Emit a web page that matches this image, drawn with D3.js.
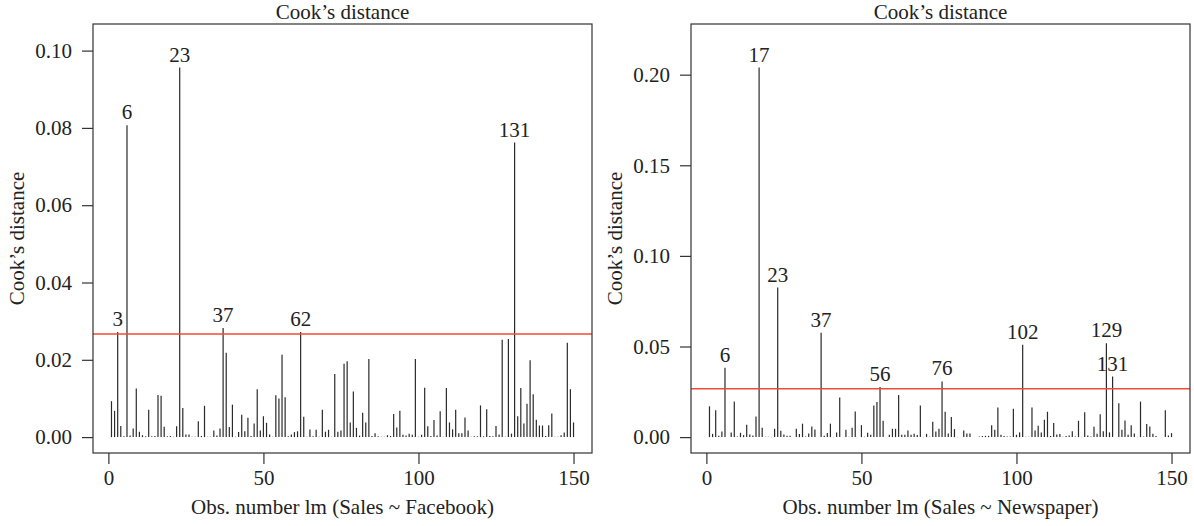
<!DOCTYPE html>
<html>
<head>
<meta charset="utf-8">
<script src="https://cdn.jsdelivr.net/npm/d3@7"></script>
<style>
  body { margin: 0; background: #fff; }
  text { font-family: "Liberation Serif", "DejaVu Serif", serif; fill: #222; }
</style>
</head>
<body>
<div id="chart"></div>
<script>
// Cook's distance, lm(Sales ~ Facebook), obs 1..150
var fbCook = [
  0.0093, 0.0068, 0.0272, 0.0029, 0.0002, 0.0807, 0.0004, 0.0022, 0.0126, 0.0014,
  0.0005, 0.0002, 0.0071, 0.0002, 0.0003, 0.0109, 0.0107, 0.0027, 0.0002, 0.0003,
  0.0001, 0.0028, 0.0956, 0.0075, 0.0007, 0.0007, 0.0001, 0.0001, 0.0041, 0.0003,
  0.0081, 0.0001, 0.0001, 0.0017, 0.0004, 0.0022, 0.0282, 0.0218, 0.0026, 0.0084,
  0.0001, 0.0013, 0.0058, 0.0015, 0.0050, 0.0003, 0.0035, 0.0124, 0.0017, 0.0054,
  0.0037, 0.0007, 0.0001, 0.0108, 0.0100, 0.0213, 0.0103, 0.0002, 0.0007, 0.0013,
  0.0015, 0.0272, 0.0053, 0.0001, 0.0020, 0.0002, 0.0019, 0.0001, 0.0071, 0.0014,
  0.0019, 0.0001, 0.0163, 0.0014, 0.0017, 0.0190, 0.0196, 0.0038, 0.0118, 0.0024,
  0.0004, 0.0063, 0.0038, 0.0202, 0.0003, 0.0010, 0.0002, 0.0001, 0.0001, 0.0005,
  0.0003, 0.0060, 0.0025, 0.0068, 0.0006, 0.0004, 0.0009, 0.0006, 0.0202, 0.0001,
  0.0006, 0.0128, 0.0028, 0.0003, 0.0044, 0.0004, 0.0067, 0.0001, 0.0127, 0.0038,
  0.0020, 0.0071, 0.0010, 0.0010, 0.0051, 0.0017, 0.0001, 0.0002, 0.0002, 0.0082,
  0.0002, 0.0072, 0.0003, 0.0002, 0.0029, 0.0007, 0.0252, 0.0001, 0.0254, 0.0009,
  0.0762, 0.0054, 0.0127, 0.0035, 0.0086, 0.0199, 0.0111, 0.0045, 0.0030, 0.0030,
  0.0003, 0.0031, 0.0061, 0.0001, 0.0001, 0.0005, 0.0012, 0.0244, 0.0124, 0.0038
];

// Cook's distance, lm(Sales ~ Newspaper), obs 1..150
var npCook = [
  0.0170, 0.0018, 0.0148, 0.0007, 0.0031, 0.0383, 0.0001, 0.0026, 0.0196, 0.0004,
  0.0024, 0.0011, 0.0068, 0.0015, 0.0009, 0.0114, 0.2039, 0.0052, 0.0002, 0.0002,
  0.0001, 0.0046, 0.0825, 0.0035, 0.0015, 0.0007, 0.0007, 0.0001, 0.0046, 0.0017,
  0.0074, 0.0004, 0.0020, 0.0059, 0.0042, 0.0001, 0.0576, 0.0007, 0.0022, 0.0074,
  0.0001, 0.0026, 0.0218, 0.0001, 0.0041, 0.0002, 0.0052, 0.0141, 0.0001, 0.0066,
  0.0002, 0.0024, 0.0013, 0.0175, 0.0194, 0.0277, 0.0090, 0.0001, 0.0013, 0.0046,
  0.0046, 0.0233, 0.0013, 0.0013, 0.0037, 0.0013, 0.0018, 0.0011, 0.0175, 0.0001,
  0.0018, 0.0002, 0.0085, 0.0031, 0.0046, 0.0307, 0.0140, 0.0020, 0.0111, 0.0044,
  0.0001, 0.0001, 0.0037, 0.0020, 0.0020, 0.0001, 0.0001, 0.0004, 0.0006, 0.0007,
  0.0007, 0.0066, 0.0041, 0.0163, 0.0013, 0.0006, 0.0004, 0.0004, 0.0157, 0.0013,
  0.0026, 0.0509, 0.0002, 0.0002, 0.0163, 0.0037, 0.0063, 0.0026, 0.0096, 0.0140,
  0.0006, 0.0078, 0.0015, 0.0017, 0.0002, 0.0006, 0.0009, 0.0033, 0.0004, 0.0090,
  0.0001, 0.0137, 0.0009, 0.0004, 0.0057, 0.0018, 0.0126, 0.0033, 0.0518, 0.0026,
  0.0334, 0.0001, 0.0187, 0.0041, 0.0092, 0.0013, 0.0066, 0.0020, 0.0001, 0.0196,
  0.0004, 0.0072, 0.0059, 0.0018, 0.0006, 0.0001, 0.0001, 0.0148, 0.0009, 0.0022
];

var xTicks = [0, 50, 100, 150];
var fbTicks = [0, 0.02, 0.04, 0.06, 0.08, 0.10];
var npTicks = [0, 0.05, 0.10, 0.15, 0.20];
var cutoff = 4 / 150;   // 4/n reference line

var width = 1194, height = 526;
var boxTop = 24, boxBottom = 453, boxW = 499;
var fontSize = "21px";

var svg = d3.select("#chart").append("svg")
    .attr("width", width)
    .attr("height", height);

drawPanel(93, fbCook, fbTicks, "Obs. number lm (Sales ~ Facebook)");
drawPanel(691, npCook, npTicks, "Obs. number lm (Sales ~ Newspaper)");

function drawPanel(left, values, yTicks, xTitle) {
    var n = values.length;
    var obs = values.map(function(d, i) { return i + 1; });
    var g = svg.append("g");

    // R style: 4% padding on each side of the data range
    var xPad = (n - 1) * 0.04;
    var x = d3.scaleLinear().domain([1 - xPad, n + xPad]).range([left, left + boxW]);
    var yMax = d3.max(values) * 1.075;
    var y = d3.scaleLinear().domain([-yMax * 0.04, yMax * 1.04]).range([boxBottom, boxTop]);

    // spikes (type = "h")
    g.selectAll("line.spike")
        .data(values)
        .enter()
        .append("line")
        .attr("class", "spike")
        .attr("x1", function(d, i) { return x(obs[i]); })
        .attr("x2", function(d, i) { return x(obs[i]); })
        .attr("y1", y(0))
        .attr("y2", function(d) { return y(d); })
        .attr("stroke", "#2a2a2a")
        .attr("stroke-width", 1.2);

    // cutoff line
    g.append("line")
        .attr("x1", left).attr("x2", left + boxW)
        .attr("y1", y(cutoff)).attr("y2", y(cutoff))
        .attr("stroke", "#f04a36")
        .attr("stroke-width", 1.5);

    // labels of influential points
    var flagged = obs.filter(function(o) { return values[o - 1] > cutoff; });
    g.selectAll("text.id")
        .data(flagged)
        .enter()
        .append("text")
        .attr("class", "id")
        .attr("x", function(o) { return x(o); })
        .attr("y", function(o) { return y(values[o - 1]) - 6; })
        .attr("text-anchor", "middle")
        .style("font-size", fontSize)
        .text(function(o) { return o; });

    // box
    g.append("rect")
        .attr("x", left).attr("y", boxTop)
        .attr("width", boxW).attr("height", boxBottom - boxTop)
        .attr("fill", "none")
        .attr("stroke", "#333")
        .attr("stroke-width", 1.2);

    // axes
    var xAxis = g.append("g")
        .attr("transform", "translate(0," + boxBottom + ")")
        .call(d3.axisBottom(x).tickValues(xTicks).tickSize(11).tickPadding(6).tickFormat(d3.format("d")));
    var yAxis = g.append("g")
        .attr("transform", "translate(" + left + ",0)")
        .call(d3.axisLeft(y).tickValues(yTicks).tickSize(11).tickPadding(10).tickFormat(d3.format(".2f")));

    [xAxis, yAxis].forEach(function(a) {
        a.select(".domain").remove();
        a.selectAll(".tick line").attr("stroke", "#333").attr("stroke-width", 1.2);
        a.selectAll(".tick text")
            .style("font-family", "'Liberation Serif', serif")
            .style("font-size", fontSize)
            .attr("fill", "#222");
    });

    // titles
    var cx = left + boxW / 2;
    g.append("text")
        .attr("x", cx).attr("y", 19)
        .attr("text-anchor", "middle")
        .style("font-size", fontSize)
        .text("Cook\u2019s distance");
    g.append("text")
        .attr("x", cx).attr("y", 514)
        .attr("text-anchor", "middle")
        .style("font-size", fontSize)
        .text(xTitle);
    g.append("text")
        .attr("transform", "translate(" + (left - 69) + "," + ((boxTop + boxBottom) / 2) + ") rotate(-90)")
        .attr("text-anchor", "middle")
        .style("font-size", fontSize)
        .text("Cook\u2019s distance");
}
</script>
</body>
</html>
